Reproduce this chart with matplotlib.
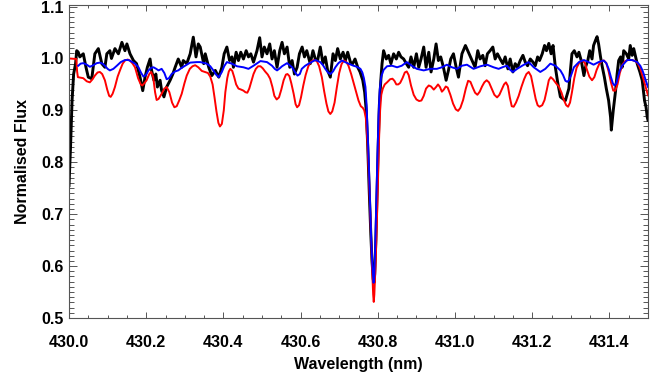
import numpy as np
import matplotlib
matplotlib.use("Agg")
import matplotlib.pyplot as plt
from matplotlib.ticker import MultipleLocator

# observed spectrum (black)
obs_wl = [430.000, 430.004, 430.008, 430.012, 430.017, 430.020, 430.024, 430.028, 430.037, 430.044,
          430.050, 430.059, 430.067, 430.076, 430.085, 430.093, 430.098, 430.106, 430.110, 430.119,
          430.128, 430.137, 430.145, 430.150, 430.158, 430.167, 430.175, 430.184, 430.191, 430.197,
          430.203, 430.210, 430.214, 430.220, 430.225, 430.229, 430.236, 430.240, 430.246, 430.253,
          430.262, 430.269, 430.275, 430.283, 430.292, 430.296, 430.305, 430.314, 430.322, 430.329,
          430.335, 430.340, 430.349, 430.353, 430.362, 430.370, 430.379, 430.388, 430.396, 430.402,
          430.409, 430.416, 430.422, 430.426, 430.433, 430.439, 430.445, 430.452, 430.459, 430.465,
          430.471, 430.478, 430.487, 430.494, 430.500, 430.506, 430.513, 430.520, 430.526, 430.532,
          430.539, 430.546, 430.552, 430.558, 430.565, 430.572, 430.578, 430.584, 430.591, 430.597,
          430.604, 430.610, 430.616, 430.625, 430.632, 430.638, 430.644, 430.651, 430.658, 430.664,
          430.670, 430.677, 430.684, 430.690, 430.696, 430.703, 430.710, 430.716, 430.722, 430.729,
          430.735, 430.741, 430.748, 430.754, 430.761, 430.766, 430.770, 430.774, 430.778, 430.782,
          430.785, 430.788, 430.790, 430.792, 430.795, 430.798, 430.801, 430.804, 430.808, 430.811,
          430.815, 430.822, 430.828,
          430.834, 430.841, 430.848, 430.854, 430.860, 430.867, 430.874, 430.880, 430.886, 430.893,
          430.900, 430.906, 430.912, 430.919, 430.925, 430.932, 430.938, 430.945, 430.951, 430.957,
          430.963, 430.970, 430.977, 430.983, 430.989, 430.996, 431.003, 431.009, 431.018, 431.027,
          431.033, 431.040, 431.046, 431.052, 431.059, 431.065, 431.072, 431.078, 431.084, 431.091,
          431.098, 431.104, 431.110, 431.117, 431.124, 431.130, 431.137, 431.143, 431.150, 431.156,
          431.162, 431.169, 431.176, 431.182, 431.188, 431.195, 431.202, 431.208, 431.214, 431.219,
          431.226, 431.232, 431.237, 431.243, 431.249, 431.254, 431.260, 431.266, 431.273, 431.280,
          431.286, 431.290, 431.295, 431.299, 431.303, 431.309, 431.316, 431.321, 431.327, 431.334,
          431.338, 431.344, 431.349, 431.355, 431.359, 431.364, 431.368, 431.372, 431.377, 431.381,
          431.387, 431.392, 431.398, 431.403, 431.405, 431.410, 431.416, 431.420, 431.424, 431.429,
          431.433, 431.437, 431.444, 431.450, 431.454, 431.459, 431.463, 431.467, 431.472, 431.479,
          431.485, 431.491, 431.495, 431.498, 431.500]
obs_flux = [0.755, 0.830, 0.920, 0.970, 0.990, 1.015, 1.012, 1.003, 1.009, 0.983,
            0.964, 0.961, 1.009, 1.019, 0.990, 0.983, 1.009, 1.015, 1.000, 1.019,
            1.009, 1.031, 1.015, 1.028, 1.009, 0.996, 0.990, 0.964, 0.938, 0.964,
            0.983, 0.999, 0.977, 0.958, 0.970, 0.945, 0.958, 0.938, 0.926, 0.945,
            0.958, 0.970, 0.983, 0.999, 0.983, 0.996, 0.990, 1.009, 1.041, 1.003,
            1.028, 1.022, 0.990, 1.009, 0.983, 0.967, 0.977, 0.964, 0.983, 1.009,
            1.022, 0.996, 1.003, 0.983, 1.012, 0.996, 1.012, 0.999, 1.015, 1.003,
            1.009, 0.993, 1.015, 1.040, 1.003, 1.022, 1.009, 1.028, 0.999, 1.015,
            0.983, 1.015, 1.031, 1.009, 1.022, 0.983, 0.996, 0.970, 0.983, 1.009,
            1.022, 1.003, 1.015, 0.990, 1.015, 0.999, 0.996, 1.022, 0.990, 1.003,
            0.977, 0.964, 1.009, 0.996, 1.019, 0.999, 1.012, 0.996, 1.012, 0.993,
            0.990, 0.999, 0.983, 0.974, 0.958, 0.935, 0.900, 0.830, 0.740, 0.660,
            0.610, 0.575, 0.568, 0.585, 0.650, 0.740, 0.830, 0.910, 0.960, 0.990,
            1.015, 0.999, 1.006,
            0.990, 1.009, 0.999, 1.012, 1.003, 0.999, 0.990, 0.983, 1.003, 0.983,
            1.009, 0.983, 0.999, 1.022, 0.983, 1.012, 0.974, 0.999, 1.028, 0.996,
            1.003, 0.983, 0.958, 0.977, 0.999, 1.009, 0.983, 0.964, 1.009, 1.025,
            1.015, 1.003, 0.993, 0.983, 1.015, 0.999, 1.006, 0.986, 1.009, 1.015,
            1.022, 0.999, 1.009, 0.999, 0.990, 1.003, 0.980, 0.999, 0.974, 0.990,
            0.983, 0.996, 1.006, 0.993, 0.986, 0.999, 0.993, 0.986, 1.003, 0.996,
            1.009, 1.025, 1.015, 1.029, 1.009, 1.025, 0.983, 0.954, 0.926, 0.922,
            0.919, 0.929, 0.942, 0.977, 1.009, 1.015, 1.003, 1.012, 0.996, 0.967,
            0.983, 0.996, 1.015, 0.999, 1.025, 1.035, 1.042, 1.028, 1.003, 0.986,
            0.964, 0.942, 0.919, 0.887, 0.862, 0.900, 0.938, 0.970, 0.996, 1.003,
            0.983, 1.015, 1.009, 0.999, 1.025, 1.006, 1.019, 1.006, 0.990, 0.974,
            0.958, 0.919, 0.906, 0.887, 0.881]

# model 1 (blue)
blue_wl = [430.024, 430.030, 430.037, 430.046, 430.054, 430.063, 430.072, 430.080, 430.087, 430.093,
           430.100, 430.106, 430.115, 430.124, 430.134, 430.145, 430.154, 430.162, 430.171, 430.180,
           430.187, 430.193, 430.199, 430.206, 430.213, 430.219, 430.226, 430.232, 430.240, 430.247,
           430.253, 430.259, 430.266, 430.275, 430.283, 430.292, 430.301, 430.314, 430.331, 430.340,
           430.357, 430.366, 430.374, 430.381, 430.388, 430.396, 430.402, 430.409, 430.422, 430.435,
           430.452, 430.465, 430.478, 430.496, 430.513, 430.526, 430.533, 430.539, 430.546, 430.552,
           430.565, 430.578, 430.586, 430.592, 430.598, 430.603, 430.612, 430.621, 430.638, 430.651,
           430.658, 430.664, 430.671, 430.677, 430.684, 430.690, 430.698, 430.707, 430.724, 430.737,
           430.746, 430.755, 430.760, 430.764, 430.768, 430.771, 430.774, 430.777, 430.780, 430.783,
           430.786, 430.789, 430.791, 430.793, 430.796, 430.799, 430.802, 430.805, 430.809, 430.815,
           430.824, 430.837, 430.850, 430.862, 430.875, 430.888, 430.901, 430.919, 430.936, 430.953,
           430.966, 430.979, 430.992, 431.005, 431.018, 431.031, 431.048, 431.066, 431.083, 431.100,
           431.113, 431.126, 431.135, 431.143, 431.150, 431.161, 431.174, 431.191, 431.204, 431.221,
           431.234, 431.247, 431.260, 431.273, 431.280, 431.286, 431.291, 431.295, 431.301, 431.308,
           431.321, 431.334, 431.346, 431.359, 431.372, 431.385, 431.392, 431.398, 431.404, 431.409,
           431.413, 431.418, 431.422, 431.427, 431.433, 431.446, 431.459, 431.472, 431.480, 431.485,
           431.489, 431.494, 431.500]
blue_flux = [0.986, 0.990, 0.991, 0.988, 0.984, 0.987, 0.991, 0.992, 0.990, 0.986,
             0.980, 0.977, 0.980, 0.986, 0.993, 0.997, 0.997, 0.994, 0.990, 0.983,
             0.972, 0.965, 0.968, 0.977, 0.982, 0.983, 0.980, 0.977, 0.980, 0.972,
             0.960, 0.962, 0.970, 0.975, 0.977, 0.982, 0.986, 0.992, 0.993, 0.993,
             0.990, 0.985, 0.977, 0.969, 0.964, 0.974, 0.985, 0.993, 0.990, 0.985,
             0.983, 0.980, 0.986, 0.995, 0.993, 0.986, 0.980, 0.977, 0.981, 0.985,
             0.991, 0.983, 0.973, 0.967, 0.970, 0.980, 0.986, 0.990, 0.997, 0.993,
             0.987, 0.980, 0.973, 0.970, 0.975, 0.983, 0.991, 0.996, 0.990, 0.986,
             0.984, 0.980, 0.973, 0.962, 0.945, 0.910, 0.850, 0.790, 0.720, 0.650,
             0.600, 0.568, 0.580, 0.630, 0.720, 0.810, 0.890, 0.940, 0.965, 0.978,
             0.985, 0.986, 0.983, 0.986, 0.993, 0.986, 0.980, 0.977, 0.980, 0.980,
             0.983, 0.988, 0.983, 0.980, 0.986, 0.988, 0.980, 0.985, 0.988, 0.983,
             0.980, 0.984, 0.986, 0.978, 0.974, 0.980, 0.986, 0.993, 0.983, 0.974,
             0.980, 0.990, 0.986, 0.977, 0.968, 0.957, 0.955, 0.958, 0.968, 0.983,
             0.993, 0.997, 0.993, 0.988, 0.993, 0.996, 0.991, 0.980, 0.964, 0.952,
             0.948, 0.952, 0.964, 0.977, 0.986, 0.997, 0.997, 0.993, 0.986, 0.978,
             0.970, 0.958, 0.945]

# model 2 (red)
red_wl = [430.000, 430.019, 430.021, 430.023, 430.030, 430.037, 430.046, 430.054, 430.061, 430.067,
          430.074, 430.080, 430.086, 430.093, 430.099, 430.104, 430.108, 430.113, 430.119, 430.126,
          430.132, 430.139, 430.145, 430.152, 430.158, 430.165, 430.171, 430.179, 430.186, 430.190,
          430.196, 430.201, 430.208, 430.213, 430.218, 430.223, 430.227, 430.232, 430.240, 430.247,
          430.253, 430.260, 430.267, 430.273, 430.279, 430.286, 430.292, 430.299, 430.305, 430.313,
          430.320, 430.327, 430.335, 430.344, 430.352, 430.360, 430.366, 430.372, 430.377, 430.382,
          430.387, 430.391, 430.396, 430.401, 430.405, 430.410, 430.414, 430.418, 430.423, 430.428,
          430.433, 430.439, 430.446, 430.452, 430.457, 430.462, 430.467, 430.472, 430.478, 430.484,
          430.490, 430.496, 430.502, 430.508, 430.515, 430.521, 430.527, 430.532, 430.538, 430.544,
          430.550, 430.556, 430.562, 430.566, 430.571, 430.576, 430.582, 430.587, 430.591, 430.596,
          430.601, 430.607, 430.613, 430.620, 430.627, 430.635, 430.642, 430.648, 430.655, 430.661,
          430.667, 430.672, 430.677, 430.682, 430.688, 430.694, 430.700, 430.706, 430.712, 430.718,
          430.724, 430.731, 430.737, 430.744, 430.750, 430.756, 430.761, 430.765, 430.769, 430.773,
          430.777, 430.781, 430.785, 430.788, 430.7895, 430.791, 430.794, 430.797, 430.800, 430.803,
          430.806, 430.809, 430.813, 430.818, 430.824, 430.832, 430.838, 430.843, 430.848, 430.853,
          430.858, 430.864, 430.870, 430.875, 430.880, 430.886, 430.893, 430.900, 430.907, 430.913,
          430.919, 430.925, 430.932, 430.938, 430.945, 430.951, 430.956, 430.961, 430.966, 430.971,
          430.976, 430.981, 430.988, 430.995, 431.002, 431.008, 431.014, 431.021, 431.028, 431.034,
          431.040, 431.046, 431.052, 431.058, 431.064, 431.070, 431.076, 431.082, 431.088, 431.095,
          431.102, 431.109, 431.115, 431.121, 431.127, 431.132, 431.137, 431.142, 431.147, 431.152,
          431.158, 431.165, 431.172, 431.179, 431.185, 431.191, 431.197, 431.203, 431.209, 431.214,
          431.219, 431.226, 431.232, 431.238, 431.243, 431.248, 431.254, 431.262, 431.269, 431.276,
          431.282, 431.288, 431.293, 431.298, 431.303, 431.309, 431.315, 431.322, 431.329, 431.336,
          431.342, 431.348, 431.355, 431.361, 431.367, 431.374, 431.380, 431.386, 431.392, 431.398,
          431.404, 431.410, 431.415, 431.421, 431.427, 431.434, 431.441, 431.449, 431.458, 431.467,
          431.474, 431.480, 431.486, 431.492, 431.500]
red_flux = [1.000, 0.999, 0.975, 0.964, 0.963, 0.962, 0.956, 0.954, 0.960, 0.967,
            0.973, 0.974, 0.970, 0.958, 0.940, 0.928, 0.926, 0.932, 0.945, 0.965,
            0.977, 0.990, 0.996, 0.998, 0.996, 0.990, 0.983, 0.962, 0.950, 0.948,
            0.953, 0.958, 0.970, 0.974, 0.965, 0.935, 0.920, 0.922, 0.932, 0.942,
            0.945, 0.935, 0.915, 0.906, 0.908, 0.920, 0.932, 0.952, 0.967, 0.980,
            0.985, 0.987, 0.983, 0.976, 0.974, 0.972, 0.965, 0.950, 0.925, 0.898,
            0.876, 0.869, 0.874, 0.900, 0.935, 0.962, 0.975, 0.980, 0.976, 0.964,
            0.950, 0.942, 0.940, 0.938, 0.935, 0.934, 0.942, 0.955, 0.970, 0.980,
            0.985, 0.985, 0.981, 0.975, 0.969, 0.961, 0.945, 0.928, 0.921, 0.925,
            0.940, 0.958, 0.969, 0.970, 0.966, 0.952, 0.932, 0.912, 0.906, 0.910,
            0.925, 0.948, 0.968, 0.985, 0.994, 0.997, 0.995, 0.985, 0.964, 0.937,
            0.913, 0.898, 0.893, 0.898, 0.915, 0.945, 0.972, 0.989, 0.996, 0.994,
            0.986, 0.970, 0.954, 0.935, 0.919, 0.908, 0.905, 0.900, 0.885, 0.840,
            0.770, 0.690, 0.600, 0.545, 0.531, 0.545, 0.600, 0.670, 0.750, 0.840,
            0.900, 0.930, 0.942, 0.950, 0.954, 0.960, 0.961, 0.957, 0.950, 0.950,
            0.953, 0.962, 0.973, 0.975, 0.968, 0.948, 0.930, 0.921, 0.918, 0.919,
            0.928, 0.942, 0.948, 0.946, 0.940, 0.945, 0.950, 0.945, 0.936, 0.940,
            0.946, 0.944, 0.930, 0.913, 0.902, 0.899, 0.905, 0.920, 0.942, 0.957,
            0.955, 0.944, 0.934, 0.930, 0.936, 0.946, 0.954, 0.958, 0.954, 0.942,
            0.930, 0.925, 0.930, 0.940, 0.950, 0.954, 0.947, 0.925, 0.908, 0.907,
            0.915, 0.928, 0.945, 0.960, 0.970, 0.974, 0.966, 0.944, 0.922, 0.910,
            0.907, 0.910, 0.920, 0.940, 0.958, 0.964, 0.960, 0.952, 0.946, 0.934,
            0.920, 0.910, 0.907, 0.915, 0.935, 0.962, 0.982, 0.992, 0.996, 0.992,
            0.978, 0.965, 0.958, 0.964, 0.978, 0.990, 0.995, 0.996, 0.991, 0.975,
            0.954, 0.938, 0.938, 0.950, 0.972, 0.988, 0.995, 0.997, 0.997, 0.995,
            0.990, 0.980, 0.966, 0.950, 0.929]

plt.rcParams['font.family'] = ['Liberation Sans', 'DejaVu Sans']
plt.rcParams['font.weight'] = 'bold'

fig = plt.figure(figsize=(6.64, 3.81), dpi=100)
ax = fig.add_axes([69 / 664, 1 - 318 / 381, 579 / 664, 313 / 381])

ax.plot(obs_wl, obs_flux, color='black', lw=2.1, solid_joinstyle='round')
ax.plot(red_wl, red_flux, color='red', lw=1.4, solid_joinstyle='round')
ax.plot(blue_wl, blue_flux, color='blue', lw=1.4, solid_joinstyle='round')

ax.set_xlim(430.0, 431.5)
ax.set_ylim(0.5, 1.103)
ax.xaxis.set_minor_locator(MultipleLocator(0.05))
ax.yaxis.set_major_locator(MultipleLocator(0.1))
ax.yaxis.set_minor_locator(MultipleLocator(0.01))
ax.set_xticks(np.arange(430.0, 431.41, 0.2))
ax.set_xticklabels(['430.0', '430.2', '430.4', '430.6', '430.8', '431.0', '431.2', '431.4'])

ax.tick_params(axis='both', which='both', direction='in', top=True, right=True,
               color='#555555', width=0.7, labelsize=11.5)
ax.tick_params(axis='x', which='major', length=4.5, pad=12)
ax.tick_params(axis='x', which='minor', length=2.5)
ax.tick_params(axis='y', which='major', length=6, pad=4)
ax.tick_params(axis='y', which='minor', length=3.5)
for s in ax.spines.values():
    s.set_color('#555555')
    s.set_linewidth(0.8)

ax.set_xlabel('Wavelength (nm)', fontsize=11.5, fontweight='bold', labelpad=5)
ax.set_ylabel('Normalised Flux', fontsize=11.5, fontweight='bold', labelpad=8)

fig.savefig('out.png', dpi=100)
